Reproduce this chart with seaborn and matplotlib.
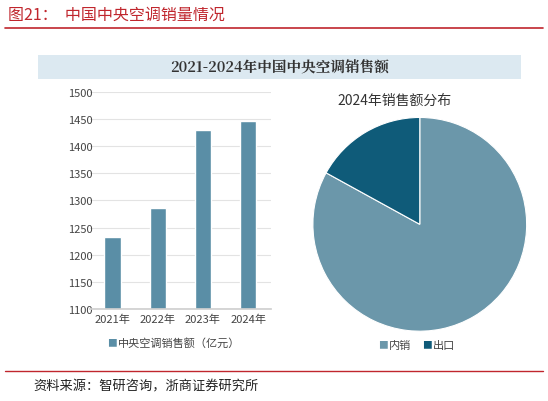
import matplotlib
matplotlib.use("Agg")
import matplotlib.pyplot as plt
import seaborn as sns
import pandas as pd
from matplotlib.patches import Rectangle

sns.set_theme(style="white")
plt.rcParams['font.family'] = ['Noto Sans CJK SC', 'DejaVu Sans']

years = ["2021年", "2022年", "2023年", "2024年"]
sales = [1232, 1286, 1430, 1447]
pie_labels = ["内销", "出口"]
pie_values = [83, 17]

fig = plt.figure(figsize=(5.48, 4.02), dpi=100)
fig.patch.set_facecolor("white")

fig.text(0.015, 0.962, "图21：  中国中央空调销量情况", color="#c0262d", fontsize=11.5, va="center")
fig.add_artist(plt.Line2D([0.01, 0.99], [0.928, 0.928], color="#c0262d", lw=1.2))
fig.add_artist(Rectangle((0.07, 0.80), 0.88, 0.06, transform=fig.transFigure, color="#dce9f1", lw=0))
fig.text(0.51, 0.83, "2021-2024年中国中央空调销售额", fontsize=10.5, fontweight="bold", ha="center", va="center", color="#333333", family=['Noto Serif CJK SC', 'Noto Sans CJK SC', 'DejaVu Sans'])

ax = fig.add_axes([0.164, 0.229, 0.33, 0.54])
df = pd.DataFrame({"year": years, "sales": sales})
sns.barplot(data=df, x="year", y="sales", color="#5a8ea6", width=0.36, ax=ax, saturation=1)
ax.set_ylim(1100, 1500)
ax.set_yticks(range(1100, 1501, 50))
ax.yaxis.grid(True, color="#e3e3e3", lw=0.8)
ax.set_axisbelow(True)
for s in ["top", "right", "left"]:
    ax.spines[s].set_visible(False)
ax.spines["bottom"].set_color("#d0d0d0")
ax.set_xlabel(""); ax.set_ylabel("")
ax.tick_params(labelsize=8, colors="#444444", length=0)
ax.tick_params(axis="y", pad=-2)
fig.text(0.195, 0.145, "■", color="#5a8ea6", fontsize=7, va="center")
fig.text(0.215, 0.145, "中央空调销售额（亿元）", color="#444444", fontsize=8, va="center")

pax = fig.add_axes([0.569, 0.171, 0.394, 0.537])
pax.pie(pie_values, colors=["#6b97aa", "#0f5b79"], startangle=90, counterclock=False,
        wedgeprops=dict(edgecolor="white", linewidth=0.8))
pax.set_xlim(-1.01, 1.01)
pax.set_ylim(-1.01, 1.01)
pax.set_aspect("equal")
fig.text(0.72, 0.75, "2024年销售额分布", fontsize=10, ha="center", va="center", color="#333333")
fig.text(0.69, 0.14, "■", color="#6b97aa", fontsize=7, va="center")
fig.text(0.71, 0.14, "内销", color="#444444", fontsize=8, va="center")
fig.text(0.77, 0.14, "■", color="#0f5b79", fontsize=7, va="center")
fig.text(0.79, 0.14, "出口", color="#444444", fontsize=8, va="center")

fig.add_artist(plt.Line2D([0.01, 0.99], [0.075, 0.075], color="#c0262d", lw=1.0))
fig.text(0.06, 0.038, "资料来源：智研咨询，浙商证券研究所", fontsize=9.5, va="center", color="#222222")

fig.savefig("out.png", dpi=100)
